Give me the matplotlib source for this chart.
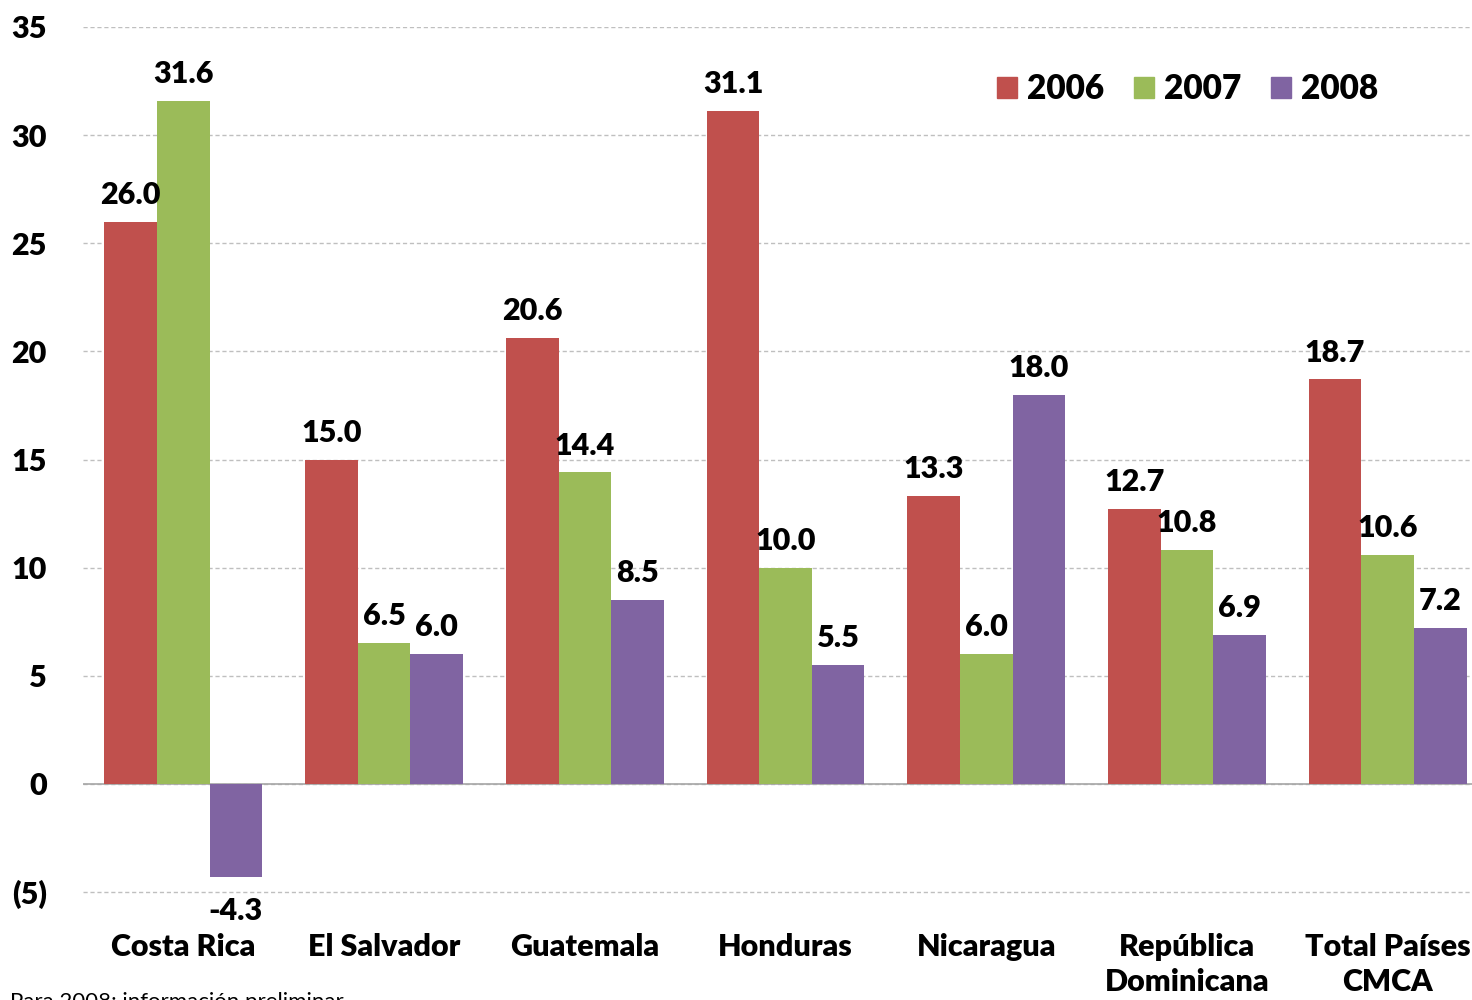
from matplotlib import pyplot as plt
from matplotlib.patches import Patch
import numpy as np

plt.rcParams['font.family'] = ['Lato', 'DejaVu Sans']

# Data
countries = ['Costa Rica', 'El Salvador', 'Guatemala', 'Honduras', 'Nicaragua',
             'República\nDominicana', 'Total Países\nCMCA']
years = ['2006', '2007', '2008']
v2006 = [26.0, 15.0, 20.6, 31.1, 13.3, 12.7, 18.7]
v2007 = [31.6, 6.5, 14.4, 10.0, 6.0, 10.8, 10.6]
v2008 = [-4.3, 6.0, 8.5, 5.5, 18.0, 6.9, 7.2]
colors = ['#C0504D', '#9BBB59', '#8064A2']
yticks = [-5, 0, 5, 10, 15, 20, 25, 30, 35]
ytick_labels = ['(5)', '0', '5', '10', '15', '20', '25', '30', '35']

fig = plt.figure(figsize=(14.72, 10), dpi=100)
ax = fig.add_axes([0.0564, 0.1015, 0.9436, 0.8715])

x = np.arange(len(countries))
w = 0.262
for i, (vals, c) in enumerate(zip([v2006, v2007, v2008], colors)):
    pos = x + (i - 1) * w
    ax.bar(pos, vals, width=w, color=c, zorder=3)
    for p, v in zip(pos, vals):
        if v >= 0:
            ax.text(p, v + 0.6, f'{v:.1f}', ha='center', va='bottom',
                    fontsize=22, fontweight='heavy', zorder=4)
        else:
            ax.text(p, v - 0.95, f'{v:.1f}', ha='center', va='top',
                    fontsize=22, fontweight='heavy', zorder=4)

ax.set_xlim(-0.5, 6.42)
ax.set_ylim(-5.3, 35)
ax.set_yticks(yticks)
ax.set_yticklabels(ytick_labels, fontsize=22, fontweight='heavy')
ax.set_xticks(x)
ax.set_xticklabels(countries, fontsize=22, fontweight='heavy', linespacing=1.3)
ax.tick_params(axis='y', length=0, pad=26)
ax.tick_params(axis='x', length=0, pad=25)

ax.grid(axis='y', color='#BFBFBF', linestyle=(0, (3, 2)), linewidth=1, zorder=0)
ax.axhline(0, color='#A6A6A6', linewidth=1.2, zorder=2)
for s in ax.spines.values():
    s.set_visible(False)

handles = [Patch(color=c, label=y) for c, y in zip(colors, years)]
fig.legend(handles=handles, loc='upper left', bbox_to_anchor=(0.668, 0.94),
           ncol=3, frameon=False, prop={'size': 24, 'weight': 'heavy'},
           handlelength=0.6, handleheight=0.6, handletextpad=0.3,
           columnspacing=0.9, borderaxespad=0)

fig.text(0.007, 0.008, 'Para 2008: información preliminar', fontsize=16,
         ha='left', va='top')

fig.savefig('out.png', dpi=100)
